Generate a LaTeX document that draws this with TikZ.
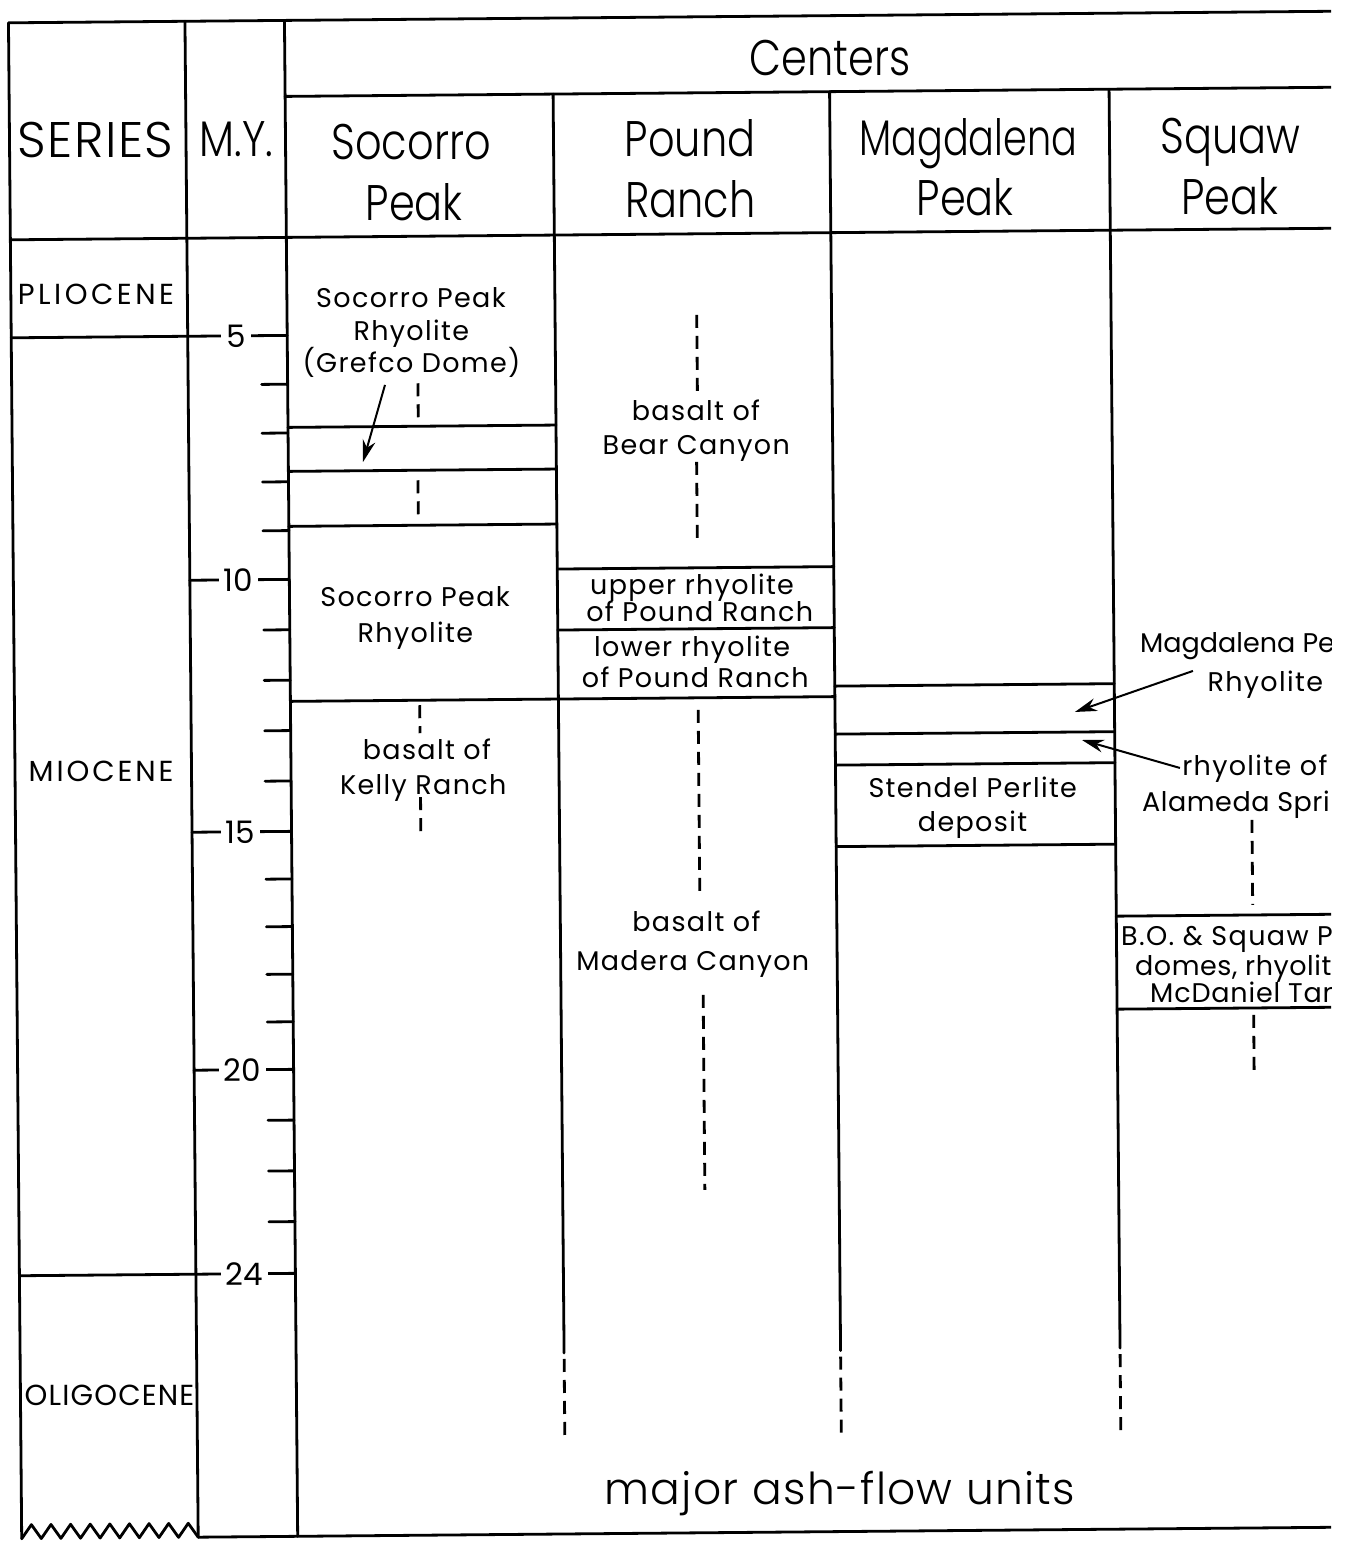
\documentclass[tikz,border=0pt]{standalone}
\usepackage{fontspec}
\usepackage{graphicx}
\setmainfont{Poppins}
\IfFontExistsTF{Poppins Light}{%
  \newfontfamily\headfont{Poppins Light}[FakeStretch=0.83]%
  \newfontfamily\headwide{Poppins Light}[LetterSpace=3]%
  \newfontfamily\bigfont{Poppins Light}[LetterSpace=3]%
}{%
  \newfontfamily\headfont{Poppins}[FakeStretch=0.83]%
  \newfontfamily\headwide{Poppins}[LetterSpace=3]%
  \newfontfamily\bigfont{Poppins}[LetterSpace=3]%
}
\newfontfamily\bodyfont{Poppins}[LetterSpace=5]
\newfontfamily\serfont{Poppins}
\usetikzlibrary{arrows.meta}
\newcommand\myhead{\headfont\fontsize{50}{60}\selectfont}
\newcommand\myheadw{\headwide\fontsize{50}{60}\selectfont}
\newcommand\myser{\serfont\fontsize{29}{35}\selectfont}
\newcommand\mynum{\serfont\fontsize{31}{37}\selectfont}
\newcommand\mybody{\bodyfont\fontsize{27}{32}\selectfont}
\newcommand\mybig{\bigfont\fontsize{44}{52}\selectfont}
\tikzset{
  rule/.style={line width=2.8pt, line cap=round, line join=round},
  dashrule/.style={line width=2.8pt, dash pattern=on 13pt off 8pt},
  arr/.style={line width=2pt, -{Stealth[length=22pt,width=13pt]}},
  head/.style={anchor=base, inner sep=0pt, font=\myhead},
  ser/.style={anchor=base, inner sep=0pt, font=\myser},
  num/.style={anchor=center, inner xsep=5pt, inner ysep=1pt, fill=white, font=\mynum},
  lab/.style={anchor=base, inner sep=0pt, font=\mybody},
  labw/.style={anchor=base west, inner sep=0pt, font=\mybody},
}
\begin{document}
\begin{tikzpicture}[x=1pt,y=-1pt]
\useasboundingbox (0,0) rectangle (1352,1541);
\begin{scope}
\clip (0,0) rectangle (1331,1541);
\begin{scope}[rotate around={0.5:(676,770)}]
% frame
\draw[rule] (15,1533) -- (15,17) -- (1400,17);
\draw[rule] (191.5,17) -- (191.5,1533);
\draw[rule] (291,17) -- (291,1533);
\draw[rule] (291,93) -- (1400,93);
\draw[rule] (15,234) -- (1400,234);
\draw[rule] (191.5,1533) -- (1400,1533);
\draw[rule] (15,1533) \foreach \i in {0,...,8} { -- ({15+19.61*\i+9.8},1519) -- ({15+19.61*(\i+1)},1533) };
% column dividers
\foreach \cx in {559,835.5,1115} {
  \draw[rule] (\cx,93) -- (\cx,1352);
  \draw[dashrule] (\cx,1358) -- (\cx,1442);
}
% series boundaries and m.y. scale
\draw[rule] (15,332) -- (291,332);
\draw[rule] (15,1270) -- (291,1270);
\foreach \ty in {576,828,1066} { \draw[rule] (191.5,\ty) -- (291,\ty); }
\foreach \ty in {380.8,429.6,478.4,527.2,626.4,676.8,727.2,777.6,875.6,923.2,970.8,1018.4,1116.75,1167.5,1218.25} {
  \draw[rule] (265,\ty) -- (291,\ty);
}
\node[num] (m5) at (240,332) {5};
\node[num] (m10) at (240,576) {10};
\node[num] (m15) at (240,828) {15};
\node[num] (m20) at (240,1066) {20};
\node[num] (m24) at (240,1270) {24};
% headings
\node[head, font=\myheadw] (hser) at (101,152) {SERIES};
\node[head] (hmy) at (242,153) {M.Y.};
\node[head] (hcen) at (836,77) {Centers};
\node[head] (hsoc1) at (416.5,157) {Socorro};
\node[head] (hsoc2) at (419,218) {Peak};
\node[head] (hpou1) at (695.5,157) {Pound};
\node[head] (hpou2) at (695,218) {Ranch};
\node[head] (hmag1) at (973.6,157.6) {\scalebox{0.92}[1]{Magdalena}};
\node[head] (hmag2) at (970,218.5) {Peak};
\node[head] (hsq1) at (1235.6,158) {Squaw};
\node[head] (hsq2) at (1235,219) {Peak};
% series names
\node[ser] (plio) at (100,299) {\addfontfeature{LetterSpace=12}PLIOCENE};
\node[ser] (mio) at (101,776) {\addfontfeature{LetterSpace=10}MIOCENE};
\node[ser] (oligo) at (104,1401) {\addfontfeature{LetterSpace=4}OLIGOCENE};
% Socorro Peak column
\draw[rule] (291,424) -- (559,424);
\draw[rule] (291,468) -- (559,468);
\draw[rule] (291,523) -- (559,523);
\draw[rule] (291,698) -- (835.5,698);
\draw[dashrule] (421.3,381) -- (421.3,418);
\draw[dashrule] (420.5,478) -- (420.5,513);
\draw[dashrule] (420.3,703) -- (420.3,731);
\draw[dashrule] (420.3,795) -- (420.3,833);
\node[lab] (sp1) at (415,305) {Socorro Peak};
\node[lab] (sp2) at (415,338) {Rhyolite};
\node[lab] (sp3) at (415,370) {(Grefco Dome)};
\coordinate (gd1) at (388.4,382.4);
\coordinate (gd2) at (365.7,459.3);
\draw[arr] (gd1) -- (gd2);
\node[lab] (sr1) at (416.5,604) {Socorro Peak};
\node[lab] (sr2) at (416.5,640) {Rhyolite};
\node[lab] (kr1) at (427,757) {basalt of};
\node[lab] (kr2) at (423,792) {Kelly Ranch};
% Pound Ranch column
\draw[rule] (559,568) -- (835.5,568);
\draw[rule] (559,629) -- (835.5,629);
\draw[dashrule] (700.7,315) -- (700.7,395);
\draw[dashrule] (699.3,462) -- (699.3,545);
\draw[dashrule] (698.7,710) -- (698.7,895);
\draw[dashrule] (701.2,995) -- (701.2,1190);
\node[lab] (bc1) at (699,421) {basalt of};
\node[lab] (bc2) at (699,455) {Bear Canyon};
\node[lab] (ur1) at (693.6,595) {upper rhyolite};
\node[lab] (ur2) at (701,622) {of Pound Ranch};
\node[lab] (lr1) at (693,657) {lower rhyolite};
\node[lab] (lr2) at (696,688) {of Pound Ranch};
\node[lab] (mc1) at (695,932) {basalt of};
\node[lab] (mc2) at (691,971) {Madera Canyon};
% Magdalena Peak column
\draw[rule] (835.5,687.5) -- (1115,687.5);
\draw[rule] (835.5,735.5) -- (1115,735.5);
\draw[rule] (835.5,766.5) -- (1115,766.5);
\draw[rule] (835.5,848) -- (1115,848);
\node[lab] (st1) at (972.5,800) {Stendel Perlite};
\node[lab] (st2) at (972,834) {deposit};
% Squaw Peak column
\node[labw] (mp1) at (1141,657) {\addfontfeature{LetterSpace=0}Magdalena Peak};
\node[labw] (mp2) at (1208,696) {Rhyolite};
\coordinate (mpa1) at (1193.9,675.5);
\coordinate (mpa2) at (1075.5,715.5);
\draw[arr] (mpa1) -- (mpa2);
\node[labw] (as1) at (1182,779.5) {rhyolite of};
\node[labw] (as2) at (1141.6,816) {\addfontfeature{LetterSpace=2}Alameda Springs};
\coordinate (asa1) at (1180,772.4);
\coordinate (asa2) at (1082.3,743.6);
\draw[arr] (asa1) -- (asa2);
\draw[dashrule] (1251.5,825) -- (1251.5,910);
\draw[rule] (1115,920) -- (1400,920);
\draw[rule] (1115,1013) -- (1400,1013);
\draw[dashrule] (1251.5,1020) -- (1251.5,1075);
\node[labw] (bo1) at (1119.5,949) {B.O. \& Squaw Peak};
\node[labw] (bo2) at (1133.2,979) {\addfontfeature{LetterSpace=2}domes, rhyolite of};
\node[labw] (bo3) at (1148,1007) {\addfontfeature{LetterSpace=3}McDaniel Tank};
% footer
\node[anchor=base, inner sep=0pt, font=\mybig] (ash) at (833.5,1506) {major ash-flow units};
\end{scope}
\end{scope}
\end{tikzpicture}
\end{document}
